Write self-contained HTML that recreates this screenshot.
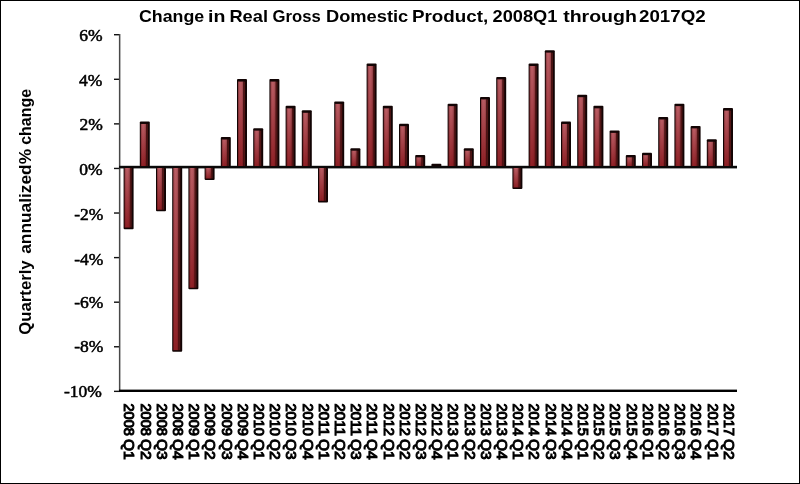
<!DOCTYPE html>
<html><head><meta charset="utf-8"><style>
html,body{margin:0;padding:0;background:#fff;}
body{width:800px;height:484px;overflow:hidden;position:relative;}
.frame{position:absolute;left:0;top:0;width:798px;height:482px;border:1px solid #000;}
svg{position:absolute;left:0;top:0;filter:blur(0.4px);}
.yl{font-family:"Liberation Serif",serif;font-size:17.5px;fill:#000;stroke:#000;stroke-width:0.55px;}
.xl{font-family:"Liberation Sans",sans-serif;font-size:14px;font-weight:normal;fill:#000;stroke:#000;stroke-width:1.0px;}
.tt{font-family:"Liberation Sans",sans-serif;font-size:17px;font-weight:bold;fill:#000;}
.at{font-family:"Liberation Sans",sans-serif;font-size:16px;font-weight:bold;fill:#000;}
</style></head><body>
<div class="frame"></div>
<svg width="800" height="484" viewBox="0 0 800 484">
<defs>
<linearGradient id="vg" x1="0" x2="0" y1="0" y2="1">
<stop offset="0" stop-color="#b45a62"/>
<stop offset="1" stop-color="#84161c"/>
</linearGradient>
<linearGradient id="hg" x1="0" x2="1" y1="0" y2="0">
<stop offset="0" stop-color="#300000" stop-opacity="0.45"/>
<stop offset="0.45" stop-color="#ff8080" stop-opacity="0.06"/>
<stop offset="1" stop-color="#300000" stop-opacity="0.35"/>
</linearGradient>
</defs>
<rect x="114" y="34.01" width="6" height="1.4" fill="#111"/>
<text x="102.5" y="40.91" text-anchor="end" class="yl">6%</text>
<rect x="114" y="78.59" width="6" height="1.4" fill="#111"/>
<text x="102.3" y="85.94" text-anchor="end" class="yl">4%</text>
<rect x="114" y="123.17" width="6" height="1.4" fill="#111"/>
<text x="102.8" y="130.07" text-anchor="end" class="yl">2%</text>
<rect x="114" y="167.75" width="6" height="1.4" fill="#111"/>
<text x="102.5" y="175.45" text-anchor="end" class="yl">0%</text>
<rect x="114" y="212.33" width="6" height="1.4" fill="#111"/>
<text x="103.3" y="219.58" text-anchor="end" class="yl">-2%</text>
<rect x="114" y="256.91" width="6" height="1.4" fill="#111"/>
<text x="103.3" y="264.86" text-anchor="end" class="yl">-4%</text>
<rect x="114" y="301.49" width="6" height="1.4" fill="#111"/>
<text x="103.3" y="307.69" text-anchor="end" class="yl">-6%</text>
<rect x="114" y="346.07" width="6" height="1.4" fill="#111"/>
<text x="103.3" y="351.62" text-anchor="end" class="yl">-8%</text>
<rect x="114" y="390.65" width="6" height="1.4" fill="#111"/>
<text x="101.8" y="396.90" text-anchor="end" class="yl">-10%</text>
<rect x="118.9" y="34" width="1.5" height="358" fill="#484848"/>
<rect x="119" y="165.8" width="618" height="2.6" fill="#0a0a0a"/>
<rect x="119" y="389.6" width="618" height="2.4" fill="#000"/>
<g transform="translate(123.60,167.50)"><rect x="0" y="0" width="10.0" height="61.63" rx="1" fill="#120404"/><rect x="1" y="0.5" width="5.4" height="59.53" fill="url(#vg)"/><rect x="1" y="0.5" width="5.4" height="59.53" fill="url(#hg)"/><rect x="6.4" y="0.5" width="1.7" height="59.53" fill="#501414"/></g>
<g transform="translate(139.80,121.47)"><rect x="0" y="0" width="10.0" height="45.03" rx="1" fill="#120404"/><rect x="1" y="2.5" width="5.4" height="42.03" fill="url(#vg)"/><rect x="1" y="2.5" width="5.4" height="42.03" fill="url(#hg)"/><rect x="6.4" y="2.5" width="1.7" height="42.03" fill="#501414"/></g>
<g transform="translate(156.00,167.50)"><rect x="0" y="0" width="10.0" height="43.80" rx="1" fill="#120404"/><rect x="1" y="0.5" width="5.4" height="41.70" fill="url(#vg)"/><rect x="1" y="0.5" width="5.4" height="41.70" fill="url(#hg)"/><rect x="6.4" y="0.5" width="1.7" height="41.70" fill="#501414"/></g>
<g transform="translate(172.20,167.50)"><rect x="0" y="0" width="10.0" height="184.23" rx="1" fill="#120404"/><rect x="1" y="0.5" width="5.4" height="182.13" fill="url(#vg)"/><rect x="1" y="0.5" width="5.4" height="182.13" fill="url(#hg)"/><rect x="6.4" y="0.5" width="1.7" height="182.13" fill="#501414"/></g>
<g transform="translate(188.40,167.50)"><rect x="0" y="0" width="10.0" height="121.82" rx="1" fill="#120404"/><rect x="1" y="0.5" width="5.4" height="119.72" fill="url(#vg)"/><rect x="1" y="0.5" width="5.4" height="119.72" fill="url(#hg)"/><rect x="6.4" y="0.5" width="1.7" height="119.72" fill="#501414"/></g>
<g transform="translate(204.60,167.50)"><rect x="0" y="0" width="10.0" height="12.59" rx="1" fill="#120404"/><rect x="1" y="0.5" width="5.4" height="10.49" fill="url(#vg)"/><rect x="1" y="0.5" width="5.4" height="10.49" fill="url(#hg)"/><rect x="6.4" y="0.5" width="1.7" height="10.49" fill="#501414"/></g>
<g transform="translate(220.80,137.07)"><rect x="0" y="0" width="10.0" height="29.43" rx="1" fill="#120404"/><rect x="1" y="2.5" width="5.4" height="26.43" fill="url(#vg)"/><rect x="1" y="2.5" width="5.4" height="26.43" fill="url(#hg)"/><rect x="6.4" y="2.5" width="1.7" height="26.43" fill="#501414"/></g>
<g transform="translate(237.00,79.12)"><rect x="0" y="0" width="10.0" height="87.38" rx="1" fill="#120404"/><rect x="1" y="2.5" width="5.4" height="84.38" fill="url(#vg)"/><rect x="1" y="2.5" width="5.4" height="84.38" fill="url(#hg)"/><rect x="6.4" y="2.5" width="1.7" height="84.38" fill="#501414"/></g>
<g transform="translate(253.20,128.16)"><rect x="0" y="0" width="10.0" height="38.34" rx="1" fill="#120404"/><rect x="1" y="2.5" width="5.4" height="35.34" fill="url(#vg)"/><rect x="1" y="2.5" width="5.4" height="35.34" fill="url(#hg)"/><rect x="6.4" y="2.5" width="1.7" height="35.34" fill="#501414"/></g>
<g transform="translate(269.40,79.12)"><rect x="0" y="0" width="10.0" height="87.38" rx="1" fill="#120404"/><rect x="1" y="2.5" width="5.4" height="84.38" fill="url(#vg)"/><rect x="1" y="2.5" width="5.4" height="84.38" fill="url(#hg)"/><rect x="6.4" y="2.5" width="1.7" height="84.38" fill="#501414"/></g>
<g transform="translate(285.60,105.87)"><rect x="0" y="0" width="10.0" height="60.63" rx="1" fill="#120404"/><rect x="1" y="2.5" width="5.4" height="57.63" fill="url(#vg)"/><rect x="1" y="2.5" width="5.4" height="57.63" fill="url(#hg)"/><rect x="6.4" y="2.5" width="1.7" height="57.63" fill="#501414"/></g>
<g transform="translate(301.80,110.32)"><rect x="0" y="0" width="10.0" height="56.18" rx="1" fill="#120404"/><rect x="1" y="2.5" width="5.4" height="53.18" fill="url(#vg)"/><rect x="1" y="2.5" width="5.4" height="53.18" fill="url(#hg)"/><rect x="6.4" y="2.5" width="1.7" height="53.18" fill="#501414"/></g>
<g transform="translate(318.00,167.50)"><rect x="0" y="0" width="10.0" height="34.88" rx="1" fill="#120404"/><rect x="1" y="0.5" width="5.4" height="32.78" fill="url(#vg)"/><rect x="1" y="0.5" width="5.4" height="32.78" fill="url(#hg)"/><rect x="6.4" y="0.5" width="1.7" height="32.78" fill="#501414"/></g>
<g transform="translate(334.20,101.41)"><rect x="0" y="0" width="10.0" height="65.09" rx="1" fill="#120404"/><rect x="1" y="2.5" width="5.4" height="62.09" fill="url(#vg)"/><rect x="1" y="2.5" width="5.4" height="62.09" fill="url(#hg)"/><rect x="6.4" y="2.5" width="1.7" height="62.09" fill="#501414"/></g>
<g transform="translate(350.40,148.22)"><rect x="0" y="0" width="10.0" height="18.28" rx="1" fill="#120404"/><rect x="1" y="2.5" width="5.4" height="15.28" fill="url(#vg)"/><rect x="1" y="2.5" width="5.4" height="15.28" fill="url(#hg)"/><rect x="6.4" y="2.5" width="1.7" height="15.28" fill="#501414"/></g>
<g transform="translate(366.60,63.52)"><rect x="0" y="0" width="10.0" height="102.98" rx="1" fill="#120404"/><rect x="1" y="2.5" width="5.4" height="99.98" fill="url(#vg)"/><rect x="1" y="2.5" width="5.4" height="99.98" fill="url(#hg)"/><rect x="6.4" y="2.5" width="1.7" height="99.98" fill="#501414"/></g>
<g transform="translate(382.80,105.87)"><rect x="0" y="0" width="10.0" height="60.63" rx="1" fill="#120404"/><rect x="1" y="2.5" width="5.4" height="57.63" fill="url(#vg)"/><rect x="1" y="2.5" width="5.4" height="57.63" fill="url(#hg)"/><rect x="6.4" y="2.5" width="1.7" height="57.63" fill="#501414"/></g>
<g transform="translate(399.00,123.70)"><rect x="0" y="0" width="10.0" height="42.80" rx="1" fill="#120404"/><rect x="1" y="2.5" width="5.4" height="39.80" fill="url(#vg)"/><rect x="1" y="2.5" width="5.4" height="39.80" fill="url(#hg)"/><rect x="6.4" y="2.5" width="1.7" height="39.80" fill="#501414"/></g>
<g transform="translate(415.20,154.90)"><rect x="0" y="0" width="10.0" height="11.60" rx="1" fill="#120404"/><rect x="1" y="2.5" width="5.4" height="8.60" fill="url(#vg)"/><rect x="1" y="2.5" width="5.4" height="8.60" fill="url(#hg)"/><rect x="6.4" y="2.5" width="1.7" height="8.60" fill="#501414"/></g>
<g transform="translate(431.40,163.82)"><rect x="0" y="0" width="10.0" height="2.68" rx="1" fill="#120404"/><rect x="1" y="2.5" width="5.4" height="0.00" fill="url(#vg)"/><rect x="1" y="2.5" width="5.4" height="0.00" fill="url(#hg)"/><rect x="6.4" y="2.5" width="1.7" height="0.00" fill="#501414"/></g>
<g transform="translate(447.60,103.64)"><rect x="0" y="0" width="10.0" height="62.86" rx="1" fill="#120404"/><rect x="1" y="2.5" width="5.4" height="59.86" fill="url(#vg)"/><rect x="1" y="2.5" width="5.4" height="59.86" fill="url(#hg)"/><rect x="6.4" y="2.5" width="1.7" height="59.86" fill="#501414"/></g>
<g transform="translate(463.80,148.22)"><rect x="0" y="0" width="10.0" height="18.28" rx="1" fill="#120404"/><rect x="1" y="2.5" width="5.4" height="15.28" fill="url(#vg)"/><rect x="1" y="2.5" width="5.4" height="15.28" fill="url(#hg)"/><rect x="6.4" y="2.5" width="1.7" height="15.28" fill="#501414"/></g>
<g transform="translate(480.00,96.95)"><rect x="0" y="0" width="10.0" height="69.55" rx="1" fill="#120404"/><rect x="1" y="2.5" width="5.4" height="66.55" fill="url(#vg)"/><rect x="1" y="2.5" width="5.4" height="66.55" fill="url(#hg)"/><rect x="6.4" y="2.5" width="1.7" height="66.55" fill="#501414"/></g>
<g transform="translate(496.20,76.89)"><rect x="0" y="0" width="10.0" height="89.61" rx="1" fill="#120404"/><rect x="1" y="2.5" width="5.4" height="86.61" fill="url(#vg)"/><rect x="1" y="2.5" width="5.4" height="86.61" fill="url(#hg)"/><rect x="6.4" y="2.5" width="1.7" height="86.61" fill="#501414"/></g>
<g transform="translate(512.40,167.50)"><rect x="0" y="0" width="10.0" height="21.51" rx="1" fill="#120404"/><rect x="1" y="0.5" width="5.4" height="19.41" fill="url(#vg)"/><rect x="1" y="0.5" width="5.4" height="19.41" fill="url(#hg)"/><rect x="6.4" y="0.5" width="1.7" height="19.41" fill="#501414"/></g>
<g transform="translate(528.60,63.52)"><rect x="0" y="0" width="10.0" height="102.98" rx="1" fill="#120404"/><rect x="1" y="2.5" width="5.4" height="99.98" fill="url(#vg)"/><rect x="1" y="2.5" width="5.4" height="99.98" fill="url(#hg)"/><rect x="6.4" y="2.5" width="1.7" height="99.98" fill="#501414"/></g>
<g transform="translate(544.80,50.14)"><rect x="0" y="0" width="10.0" height="116.36" rx="1" fill="#120404"/><rect x="1" y="2.5" width="5.4" height="113.36" fill="url(#vg)"/><rect x="1" y="2.5" width="5.4" height="113.36" fill="url(#hg)"/><rect x="6.4" y="2.5" width="1.7" height="113.36" fill="#501414"/></g>
<g transform="translate(561.00,121.47)"><rect x="0" y="0" width="10.0" height="45.03" rx="1" fill="#120404"/><rect x="1" y="2.5" width="5.4" height="42.03" fill="url(#vg)"/><rect x="1" y="2.5" width="5.4" height="42.03" fill="url(#hg)"/><rect x="6.4" y="2.5" width="1.7" height="42.03" fill="#501414"/></g>
<g transform="translate(577.20,94.72)"><rect x="0" y="0" width="10.0" height="71.78" rx="1" fill="#120404"/><rect x="1" y="2.5" width="5.4" height="68.78" fill="url(#vg)"/><rect x="1" y="2.5" width="5.4" height="68.78" fill="url(#hg)"/><rect x="6.4" y="2.5" width="1.7" height="68.78" fill="#501414"/></g>
<g transform="translate(593.40,105.87)"><rect x="0" y="0" width="10.0" height="60.63" rx="1" fill="#120404"/><rect x="1" y="2.5" width="5.4" height="57.63" fill="url(#vg)"/><rect x="1" y="2.5" width="5.4" height="57.63" fill="url(#hg)"/><rect x="6.4" y="2.5" width="1.7" height="57.63" fill="#501414"/></g>
<g transform="translate(609.60,130.39)"><rect x="0" y="0" width="10.0" height="36.11" rx="1" fill="#120404"/><rect x="1" y="2.5" width="5.4" height="33.11" fill="url(#vg)"/><rect x="1" y="2.5" width="5.4" height="33.11" fill="url(#hg)"/><rect x="6.4" y="2.5" width="1.7" height="33.11" fill="#501414"/></g>
<g transform="translate(625.80,154.90)"><rect x="0" y="0" width="10.0" height="11.60" rx="1" fill="#120404"/><rect x="1" y="2.5" width="5.4" height="8.60" fill="url(#vg)"/><rect x="1" y="2.5" width="5.4" height="8.60" fill="url(#hg)"/><rect x="6.4" y="2.5" width="1.7" height="8.60" fill="#501414"/></g>
<g transform="translate(642.00,152.68)"><rect x="0" y="0" width="10.0" height="13.82" rx="1" fill="#120404"/><rect x="1" y="2.5" width="5.4" height="10.82" fill="url(#vg)"/><rect x="1" y="2.5" width="5.4" height="10.82" fill="url(#hg)"/><rect x="6.4" y="2.5" width="1.7" height="10.82" fill="#501414"/></g>
<g transform="translate(658.20,117.01)"><rect x="0" y="0" width="10.0" height="49.49" rx="1" fill="#120404"/><rect x="1" y="2.5" width="5.4" height="46.49" fill="url(#vg)"/><rect x="1" y="2.5" width="5.4" height="46.49" fill="url(#hg)"/><rect x="6.4" y="2.5" width="1.7" height="46.49" fill="#501414"/></g>
<g transform="translate(674.40,103.64)"><rect x="0" y="0" width="10.0" height="62.86" rx="1" fill="#120404"/><rect x="1" y="2.5" width="5.4" height="59.86" fill="url(#vg)"/><rect x="1" y="2.5" width="5.4" height="59.86" fill="url(#hg)"/><rect x="6.4" y="2.5" width="1.7" height="59.86" fill="#501414"/></g>
<g transform="translate(690.60,125.93)"><rect x="0" y="0" width="10.0" height="40.57" rx="1" fill="#120404"/><rect x="1" y="2.5" width="5.4" height="37.57" fill="url(#vg)"/><rect x="1" y="2.5" width="5.4" height="37.57" fill="url(#hg)"/><rect x="6.4" y="2.5" width="1.7" height="37.57" fill="#501414"/></g>
<g transform="translate(706.80,139.30)"><rect x="0" y="0" width="10.0" height="27.20" rx="1" fill="#120404"/><rect x="1" y="2.5" width="5.4" height="24.20" fill="url(#vg)"/><rect x="1" y="2.5" width="5.4" height="24.20" fill="url(#hg)"/><rect x="6.4" y="2.5" width="1.7" height="24.20" fill="#501414"/></g>
<g transform="translate(723.00,108.10)"><rect x="0" y="0" width="10.0" height="58.40" rx="1" fill="#120404"/><rect x="1" y="2.5" width="5.4" height="55.40" fill="url(#vg)"/><rect x="1" y="2.5" width="5.4" height="55.40" fill="url(#hg)"/><rect x="6.4" y="2.5" width="1.7" height="55.40" fill="#501414"/></g>
<text transform="translate(124.30,403.40) rotate(90)" class="xl" textLength="32.50" lengthAdjust="spacingAndGlyphs">2008</text>
<text transform="translate(124.30,439.00) rotate(90)" class="xl" textLength="20.70" lengthAdjust="spacingAndGlyphs">Q1</text>
<text transform="translate(140.50,403.40) rotate(90)" class="xl" textLength="32.50" lengthAdjust="spacingAndGlyphs">2008</text>
<text transform="translate(140.50,439.00) rotate(90)" class="xl" textLength="20.70" lengthAdjust="spacingAndGlyphs">Q2</text>
<text transform="translate(156.70,403.40) rotate(90)" class="xl" textLength="32.50" lengthAdjust="spacingAndGlyphs">2008</text>
<text transform="translate(156.70,439.00) rotate(90)" class="xl" textLength="20.70" lengthAdjust="spacingAndGlyphs">Q3</text>
<text transform="translate(172.90,403.40) rotate(90)" class="xl" textLength="32.50" lengthAdjust="spacingAndGlyphs">2008</text>
<text transform="translate(172.90,439.00) rotate(90)" class="xl" textLength="20.70" lengthAdjust="spacingAndGlyphs">Q4</text>
<text transform="translate(189.10,403.40) rotate(90)" class="xl" textLength="32.50" lengthAdjust="spacingAndGlyphs">2009</text>
<text transform="translate(189.10,439.00) rotate(90)" class="xl" textLength="20.70" lengthAdjust="spacingAndGlyphs">Q1</text>
<text transform="translate(205.30,403.40) rotate(90)" class="xl" textLength="32.50" lengthAdjust="spacingAndGlyphs">2009</text>
<text transform="translate(205.30,439.00) rotate(90)" class="xl" textLength="20.70" lengthAdjust="spacingAndGlyphs">Q2</text>
<text transform="translate(221.50,403.40) rotate(90)" class="xl" textLength="32.50" lengthAdjust="spacingAndGlyphs">2009</text>
<text transform="translate(221.50,439.00) rotate(90)" class="xl" textLength="20.70" lengthAdjust="spacingAndGlyphs">Q3</text>
<text transform="translate(237.70,403.40) rotate(90)" class="xl" textLength="32.50" lengthAdjust="spacingAndGlyphs">2009</text>
<text transform="translate(237.70,439.00) rotate(90)" class="xl" textLength="20.70" lengthAdjust="spacingAndGlyphs">Q4</text>
<text transform="translate(253.90,403.40) rotate(90)" class="xl" textLength="32.50" lengthAdjust="spacingAndGlyphs">2010</text>
<text transform="translate(253.90,439.00) rotate(90)" class="xl" textLength="20.70" lengthAdjust="spacingAndGlyphs">Q1</text>
<text transform="translate(270.10,403.40) rotate(90)" class="xl" textLength="32.50" lengthAdjust="spacingAndGlyphs">2010</text>
<text transform="translate(270.10,439.00) rotate(90)" class="xl" textLength="20.70" lengthAdjust="spacingAndGlyphs">Q2</text>
<text transform="translate(286.30,403.40) rotate(90)" class="xl" textLength="32.50" lengthAdjust="spacingAndGlyphs">2010</text>
<text transform="translate(286.30,439.00) rotate(90)" class="xl" textLength="20.70" lengthAdjust="spacingAndGlyphs">Q3</text>
<text transform="translate(302.50,403.40) rotate(90)" class="xl" textLength="32.50" lengthAdjust="spacingAndGlyphs">2010</text>
<text transform="translate(302.50,439.00) rotate(90)" class="xl" textLength="20.70" lengthAdjust="spacingAndGlyphs">Q4</text>
<text transform="translate(318.70,403.40) rotate(90)" class="xl" textLength="32.50" lengthAdjust="spacingAndGlyphs">2011</text>
<text transform="translate(318.70,439.00) rotate(90)" class="xl" textLength="20.70" lengthAdjust="spacingAndGlyphs">Q1</text>
<text transform="translate(334.90,403.40) rotate(90)" class="xl" textLength="32.50" lengthAdjust="spacingAndGlyphs">2011</text>
<text transform="translate(334.90,439.00) rotate(90)" class="xl" textLength="20.70" lengthAdjust="spacingAndGlyphs">Q2</text>
<text transform="translate(351.10,403.40) rotate(90)" class="xl" textLength="32.50" lengthAdjust="spacingAndGlyphs">2011</text>
<text transform="translate(351.10,439.00) rotate(90)" class="xl" textLength="20.70" lengthAdjust="spacingAndGlyphs">Q3</text>
<text transform="translate(367.30,403.40) rotate(90)" class="xl" textLength="32.50" lengthAdjust="spacingAndGlyphs">2011</text>
<text transform="translate(367.30,439.00) rotate(90)" class="xl" textLength="20.70" lengthAdjust="spacingAndGlyphs">Q4</text>
<text transform="translate(383.50,403.40) rotate(90)" class="xl" textLength="32.50" lengthAdjust="spacingAndGlyphs">2012</text>
<text transform="translate(383.50,439.00) rotate(90)" class="xl" textLength="20.70" lengthAdjust="spacingAndGlyphs">Q1</text>
<text transform="translate(399.70,403.40) rotate(90)" class="xl" textLength="32.50" lengthAdjust="spacingAndGlyphs">2012</text>
<text transform="translate(399.70,439.00) rotate(90)" class="xl" textLength="20.70" lengthAdjust="spacingAndGlyphs">Q2</text>
<text transform="translate(415.90,403.40) rotate(90)" class="xl" textLength="32.50" lengthAdjust="spacingAndGlyphs">2012</text>
<text transform="translate(415.90,439.00) rotate(90)" class="xl" textLength="20.70" lengthAdjust="spacingAndGlyphs">Q3</text>
<text transform="translate(432.10,403.40) rotate(90)" class="xl" textLength="32.50" lengthAdjust="spacingAndGlyphs">2012</text>
<text transform="translate(432.10,439.00) rotate(90)" class="xl" textLength="20.70" lengthAdjust="spacingAndGlyphs">Q4</text>
<text transform="translate(448.30,403.40) rotate(90)" class="xl" textLength="32.50" lengthAdjust="spacingAndGlyphs">2013</text>
<text transform="translate(448.30,439.00) rotate(90)" class="xl" textLength="20.70" lengthAdjust="spacingAndGlyphs">Q1</text>
<text transform="translate(464.50,403.40) rotate(90)" class="xl" textLength="32.50" lengthAdjust="spacingAndGlyphs">2013</text>
<text transform="translate(464.50,439.00) rotate(90)" class="xl" textLength="20.70" lengthAdjust="spacingAndGlyphs">Q2</text>
<text transform="translate(480.70,403.40) rotate(90)" class="xl" textLength="32.50" lengthAdjust="spacingAndGlyphs">2013</text>
<text transform="translate(480.70,439.00) rotate(90)" class="xl" textLength="20.70" lengthAdjust="spacingAndGlyphs">Q3</text>
<text transform="translate(496.90,403.40) rotate(90)" class="xl" textLength="32.50" lengthAdjust="spacingAndGlyphs">2013</text>
<text transform="translate(496.90,439.00) rotate(90)" class="xl" textLength="20.70" lengthAdjust="spacingAndGlyphs">Q4</text>
<text transform="translate(513.10,403.40) rotate(90)" class="xl" textLength="32.50" lengthAdjust="spacingAndGlyphs">2014</text>
<text transform="translate(513.10,439.00) rotate(90)" class="xl" textLength="20.70" lengthAdjust="spacingAndGlyphs">Q1</text>
<text transform="translate(529.30,403.40) rotate(90)" class="xl" textLength="32.50" lengthAdjust="spacingAndGlyphs">2014</text>
<text transform="translate(529.30,439.00) rotate(90)" class="xl" textLength="20.70" lengthAdjust="spacingAndGlyphs">Q2</text>
<text transform="translate(545.50,403.40) rotate(90)" class="xl" textLength="32.50" lengthAdjust="spacingAndGlyphs">2014</text>
<text transform="translate(545.50,439.00) rotate(90)" class="xl" textLength="20.70" lengthAdjust="spacingAndGlyphs">Q3</text>
<text transform="translate(561.70,403.40) rotate(90)" class="xl" textLength="32.50" lengthAdjust="spacingAndGlyphs">2014</text>
<text transform="translate(561.70,439.00) rotate(90)" class="xl" textLength="20.70" lengthAdjust="spacingAndGlyphs">Q4</text>
<text transform="translate(577.90,403.40) rotate(90)" class="xl" textLength="32.50" lengthAdjust="spacingAndGlyphs">2015</text>
<text transform="translate(577.90,439.00) rotate(90)" class="xl" textLength="20.70" lengthAdjust="spacingAndGlyphs">Q1</text>
<text transform="translate(594.10,403.40) rotate(90)" class="xl" textLength="32.50" lengthAdjust="spacingAndGlyphs">2015</text>
<text transform="translate(594.10,439.00) rotate(90)" class="xl" textLength="20.70" lengthAdjust="spacingAndGlyphs">Q2</text>
<text transform="translate(610.30,403.40) rotate(90)" class="xl" textLength="32.50" lengthAdjust="spacingAndGlyphs">2015</text>
<text transform="translate(610.30,439.00) rotate(90)" class="xl" textLength="20.70" lengthAdjust="spacingAndGlyphs">Q3</text>
<text transform="translate(626.50,403.40) rotate(90)" class="xl" textLength="32.50" lengthAdjust="spacingAndGlyphs">2015</text>
<text transform="translate(626.50,439.00) rotate(90)" class="xl" textLength="20.70" lengthAdjust="spacingAndGlyphs">Q4</text>
<text transform="translate(642.70,403.40) rotate(90)" class="xl" textLength="32.50" lengthAdjust="spacingAndGlyphs">2016</text>
<text transform="translate(642.70,439.00) rotate(90)" class="xl" textLength="20.70" lengthAdjust="spacingAndGlyphs">Q1</text>
<text transform="translate(658.90,403.40) rotate(90)" class="xl" textLength="32.50" lengthAdjust="spacingAndGlyphs">2016</text>
<text transform="translate(658.90,439.00) rotate(90)" class="xl" textLength="20.70" lengthAdjust="spacingAndGlyphs">Q2</text>
<text transform="translate(675.10,403.40) rotate(90)" class="xl" textLength="32.50" lengthAdjust="spacingAndGlyphs">2016</text>
<text transform="translate(675.10,439.00) rotate(90)" class="xl" textLength="20.70" lengthAdjust="spacingAndGlyphs">Q3</text>
<text transform="translate(691.30,403.40) rotate(90)" class="xl" textLength="32.50" lengthAdjust="spacingAndGlyphs">2016</text>
<text transform="translate(691.30,439.00) rotate(90)" class="xl" textLength="20.70" lengthAdjust="spacingAndGlyphs">Q4</text>
<text transform="translate(707.50,403.40) rotate(90)" class="xl" textLength="32.50" lengthAdjust="spacingAndGlyphs">2017</text>
<text transform="translate(707.50,439.00) rotate(90)" class="xl" textLength="20.70" lengthAdjust="spacingAndGlyphs">Q1</text>
<text transform="translate(723.70,403.40) rotate(90)" class="xl" textLength="32.50" lengthAdjust="spacingAndGlyphs">2017</text>
<text transform="translate(723.70,439.00) rotate(90)" class="xl" textLength="20.70" lengthAdjust="spacingAndGlyphs">Q2</text>
<text x="139.02" y="22" class="tt" textLength="65.24" lengthAdjust="spacingAndGlyphs">Change</text>
<text x="207.96" y="22" class="tt" textLength="17.36" lengthAdjust="spacingAndGlyphs">in</text>
<text x="229.44" y="22" class="tt" textLength="38.54" lengthAdjust="spacingAndGlyphs">Real</text>
<text x="272.56" y="22" class="tt" textLength="48.12" lengthAdjust="spacingAndGlyphs">Gross</text>
<text x="325.98" y="22" class="tt" textLength="82.30" lengthAdjust="spacingAndGlyphs">Domestic</text>
<text x="411.96" y="22" class="tt" textLength="76.28" lengthAdjust="spacingAndGlyphs">Product,</text>
<text x="492.56" y="22" class="tt" textLength="64.88" lengthAdjust="spacingAndGlyphs">2008Q1</text>
<text x="563.16" y="22" class="tt" textLength="73.74" lengthAdjust="spacingAndGlyphs">through</text>
<text x="639.02" y="22" class="tt" textLength="66.62" lengthAdjust="spacingAndGlyphs">2017Q2</text>
<text transform="translate(31.4,334.74) rotate(-90)" class="at" textLength="74.42" lengthAdjust="spacingAndGlyphs">Quarterly</text>
<text transform="translate(31.4,253.78) rotate(-90)" class="at" textLength="104.84" lengthAdjust="spacingAndGlyphs">annualized%</text>
<text transform="translate(31.4,144.78) rotate(-90)" class="at" textLength="55.84" lengthAdjust="spacingAndGlyphs">change</text>
</svg>
</body></html>
